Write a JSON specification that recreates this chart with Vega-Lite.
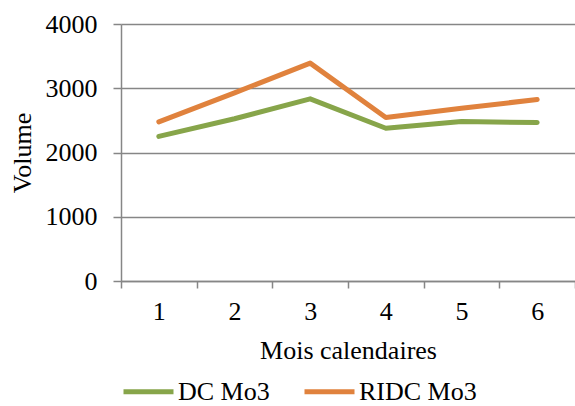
{
  "$schema": "https://vega.github.io/schema/vega-lite/v6.json",
  "width": 454,
  "height": 257,
  "autosize": "none",
  "padding": {"left": 121, "top": 24, "right": 0, "bottom": 125},
  "background": "white",
  "data": {
    "values": [
      {"mois": "1", "serie": "DC Mo3", "volume": 2250},
      {"mois": "2", "serie": "DC Mo3", "volume": 2525},
      {"mois": "3", "serie": "DC Mo3", "volume": 2835},
      {"mois": "4", "serie": "DC Mo3", "volume": 2378},
      {"mois": "5", "serie": "DC Mo3", "volume": 2481},
      {"mois": "6", "serie": "DC Mo3", "volume": 2466},
      {"mois": "1", "serie": "RIDC Mo3", "volume": 2477},
      {"mois": "2", "serie": "RIDC Mo3", "volume": 2928},
      {"mois": "3", "serie": "RIDC Mo3", "volume": 3391},
      {"mois": "4", "serie": "RIDC Mo3", "volume": 2544},
      {"mois": "5", "serie": "RIDC Mo3", "volume": 2690},
      {"mois": "6", "serie": "RIDC Mo3", "volume": 2824}
    ]
  },
  "config": {
    "view": {"stroke": null},
    "font": "Liberation Serif",
    "axis": {
      "labelFont": "Liberation Serif",
      "titleFont": "Liberation Serif",
      "labelFontSize": 26,
      "titleFontSize": 26,
      "labelColor": "#000000",
      "titleColor": "#000000",
      "titleFontWeight": "normal",
      "domainColor": "#868686",
      "tickColor": "#868686",
      "gridColor": "#868686",
      "domainWidth": 1.5,
      "tickWidth": 1.5,
      "gridWidth": 1.5
    }
  },
  "mark": {"type": "line", "strokeWidth": 5, "strokeCap": "round", "strokeJoin": "round"},
  "encoding": {
    "x": {
      "field": "mois",
      "type": "ordinal",
      "bandPosition": 0.5,
      "scale": {"type": "band", "paddingInner": 0, "paddingOuter": 0},
      "axis": {
        "title": "Mois calendaires",
        "labelAngle": 0,
        "tickBand": "extent",
        "tickSize": 7,
        "labelPadding": 10,
        "titlePadding": 13,
        "grid": false
      }
    },
    "y": {
      "field": "volume",
      "type": "quantitative",
      "scale": {"domain": [0, 4000], "nice": false},
      "axis": {
        "title": "Volume",
        "format": "d",
        "values": [0, 1000, 2000, 3000, 4000],
        "tickSize": 8,
        "labelPadding": 16,
        "titlePadding": 10,
        "grid": true
      }
    },
    "color": {
      "field": "serie",
      "type": "nominal",
      "scale": {"domain": ["DC Mo3", "RIDC Mo3"], "range": ["#87A54A", "#E0823D"]},
      "legend": {
        "title": null,
        "orient": "none",
        "direction": "horizontal",
        "legendX": 0,
        "legendY": 340,
        "symbolType": "M-1,0L1,0",
        "symbolSize": 2500,
        "symbolStrokeWidth": 5,
        "labelFont": "Liberation Serif",
        "labelFontSize": 26,
        "labelColor": "#000000",
        "labelOffset": 2,
        "columnPadding": 24
      }
    }
  }
}
